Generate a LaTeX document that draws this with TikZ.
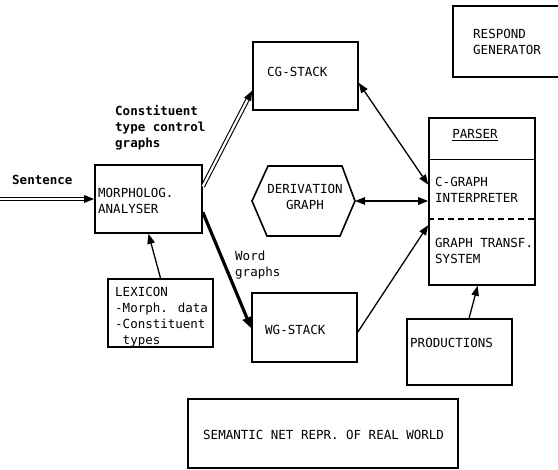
\documentclass[tikz,border=0pt]{standalone}
\usepackage{fontspec}
\newfontfamily\tw{DejaVu Sans Mono}
\usetikzlibrary{arrows.meta,calc}
\begin{document}
\begin{tikzpicture}[x=1pt,y=-1pt,
  box/.style={draw, line width=1.6pt, inner sep=0pt},
  txt/.style={inner sep=0pt, align=left, anchor=west, font=\tw\fontsize{12.5}{16}\selectfont},
  btxt/.style={txt, font=\tw\bfseries\fontsize{12.5}{16}\selectfont},
  con/.style={line width=1.3pt},
  tip/.style={-{Triangle[length=10pt,width=7.5pt]}},
  tips/.style={{Triangle[length=10pt,width=7.5pt]}-{Triangle[length=10pt,width=7.5pt]}},
  dbl/.style={double, double distance=2.2pt, line width=1.1pt},
  thickarrow/.style={line width=3.2pt, -{Triangle[length=11pt,width=9pt]}}]
\useasboundingbox (0,0) rectangle (558,470);
\clip (0,0) rectangle (558,470);
% boxes
\node[box, minimum width=107pt, minimum height=68pt] (morph) at (148.5,199) {};
\node[box, minimum width=105pt, minimum height=68pt] (cg) at (305.5,76) {};
\node[box, minimum width=117pt, minimum height=71pt] (resp) at (511.5,41.5) {};
\node[box, minimum width=106pt, minimum height=167pt] (parser) at (482,201.5) {};
\node[box, minimum width=105pt, minimum height=68pt] (lex) at (160.5,313) {};
\node[box, minimum width=105pt, minimum height=69pt] (wg) at (304.5,327.5) {};
\node[box, minimum width=105pt, minimum height=66pt] (prod) at (459.5,352) {};
\node[box, minimum width=270pt, minimum height=69pt] (sem) at (323,433.5) {};
% parser dividers
\draw[line width=1.6pt] ($(parser.north west)!0.251!(parser.south west)$) -- ($(parser.north east)!0.251!(parser.south east)$);
\draw[line width=1.6pt, dash pattern=on 6pt off 4pt] ($(parser.north west)!0.605!(parser.south west)$) -- ($(parser.north east)!0.605!(parser.south east)$);
% hexagon
\coordinate (hxL) at (252,201);
\coordinate (hxTL) at (268,166);
\coordinate (hxTR) at (342,166);
\coordinate (hxR) at (355,201);
\coordinate (hxBR) at (340,236);
\coordinate (hxBL) at (267,236);
\draw[line width=1.6pt] (hxL) -- (hxTL) -- (hxTR) -- (hxR) -- (hxBR) -- (hxBL) -- cycle;
% texts
\node[btxt] (sentT) at (12,180) {Sentence};
\node[txt] (morphT) at (98,200.5) {MORPHOLOG.\\ANALYSER};
\node[txt] (cgT) at (267,72) {CG-STACK};
\node[txt] (respT) at (473,41.5) {RESPOND\\GENERATOR};
\node[btxt] (constT) at (115,128) {Constituent\\type control\\graphs};
\node[txt, anchor=center, align=center] (derivT) at (305,197) {DERIVATION\\GRAPH};
\node[txt, anchor=center] (parserT) at (475,135) {\underline{PARSER}};
\node[txt] (cgiT) at (435,189.5) {C-GRAPH\\INTERPRETER};
\node[txt] (gtsT) at (435,250.5) {GRAPH TRANSF.\\SYSTEM};
\node[txt] (wordT) at (235,265.5) {Word\\graphs};
\node[txt] (lexT) at (115,317.5) {LEXICON\\-Morph. data\\-Constituent\\\phantom{-}types};
\node[txt] (wgT) at (265,330) {WG-STACK};
\node[txt] (prodT) at (410,343) {PRODUCTIONS};
\node[txt] (semT) at (203,435) {SEMANTIC NET REPR. OF REAL WORLD};
% connectors
\coordinate (sA) at (0,199);
\draw[dbl, shorten >=8pt] (sA) -- (morph.west);
\draw[con, tip] ($(morph.west)+(-10,0)$) -- (morph.west);
\coordinate (mA) at ($(morph.north east)!0.32!(morph.south east)$);
\coordinate (cA) at ($(cg.north west)!0.71!(cg.south west)$);
\draw[dbl, shorten >=8pt] (mA) -- (cA);
\draw[con, tip] ($(cA)!10pt!(mA)$) -- (cA);
\coordinate (mB) at ($(morph.north east)!0.69!(morph.south east)$);
\coordinate (wA) at ($(wg.north west)!0.51!(wg.south west)$);
\draw[thickarrow] (mB) -- (wA);
\draw[con, tip] (lex.north) -- (morph.south);
\coordinate (cB) at ($(cg.north east)!0.6!(cg.south east)$);
\coordinate (pA) at ($(parser.north west)!0.40!(parser.south west)$);
\draw[con, tips] (cB) -- (pA);
\draw[con, tips] (hxR) -- (hxR -| parser.west);
\coordinate (wB) at ($(wg.north east)!0.565!(wg.south east)$);
\coordinate (pC) at ($(parser.north west)!0.64!(parser.south west)$);
\draw[con, tip] (wB) -- (pC);
\draw[con, tip] ($(prod.north west)!0.59!(prod.north east)$) -- ($(parser.south west)!0.46!(parser.south east)$);
\end{tikzpicture}
\end{document}
